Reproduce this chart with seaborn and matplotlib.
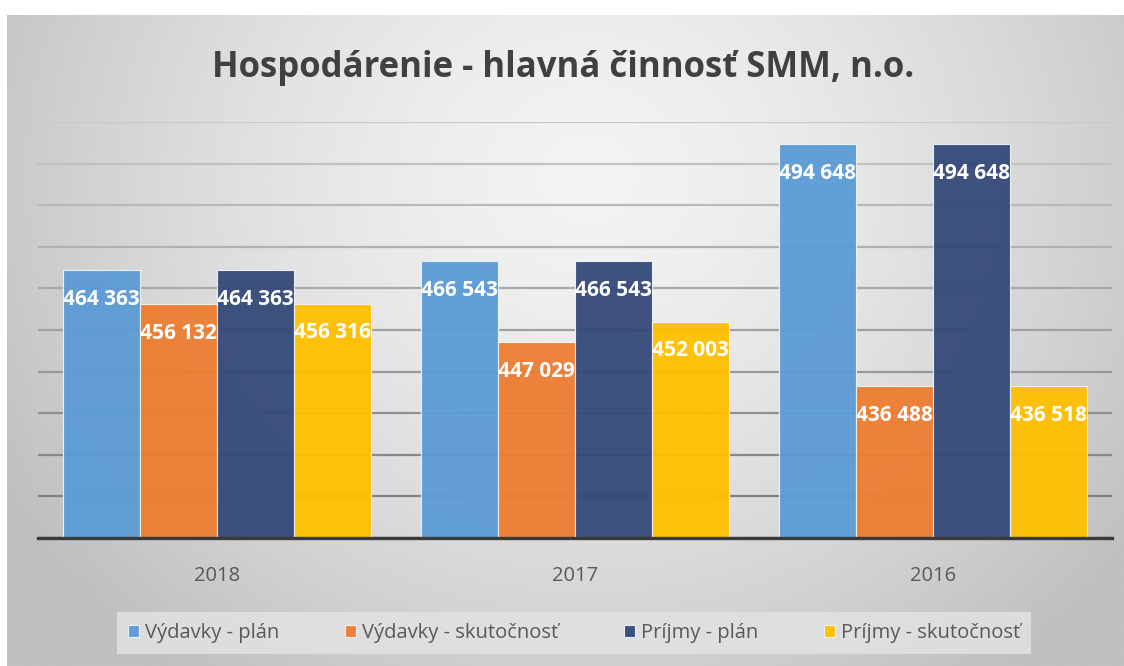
import numpy as np
import pandas as pd
import seaborn as sns
import matplotlib.pyplot as plt
from matplotlib.colors import to_rgb

# Data
years = ['2018', '2017', '2016']
series = ['Výdavky - plán', 'Výdavky - skutočnosť', 'Príjmy - plán', 'Príjmy - skutočnosť']
vydavky_plan = [464363, 466543, 494648]
vydavky_skut = [456132, 447029, 436488]
prijmy_plan = [464363, 466543, 494648]
prijmy_skut = [456316, 452003, 436518]

colors = ['#5B9BD5', '#ED7D31', '#34497A', '#FFC000']

rows = []
for name, vals in zip(series, [vydavky_plan, vydavky_skut, prijmy_plan, prijmy_skut]):
    for y, v in zip(years, vals):
        rows.append({'Rok': y, 'Séria': name, 'Hodnota': v})
df = pd.DataFrame(rows)

sns.set_theme(style='white')
plt.rcParams['font.family'] = ['Open Sans', 'DejaVu Sans']

W, H = 1124, 666
fig = plt.figure(figsize=(W / 100, H / 100), dpi=100, facecolor='white')

# gray radial gradient behind the chart
bg = fig.add_axes([7 / W, 0, 1 - 7 / W, (H - 15) / H], zorder=-10)
gx, gy = np.meshgrid(np.linspace(0, 1, 400), np.linspace(0, 1, 240))
r = np.sqrt(((gx - 0.52) / 0.60) ** 2 + ((gy - 0.25) / 0.95) ** 2)
t = np.clip(r, 0, 1) ** 1.5
c0, c1 = np.array(to_rgb('#f3f3f3')), np.array(to_rgb('#c0c0c0'))
img = c0[None, None, :] * (1 - t[..., None]) + c1[None, None, :] * t[..., None]
bg.imshow(img, aspect='auto', extent=[0, 1, 0, 1], origin='upper')
bg.axis('off')

ax = fig.add_axes([38 / W, (H - 538) / H, (1112 - 38) / W, (538 - 122) / H])
ax.set_facecolor('none')

sns.barplot(data=df, x='Rok', y='Hodnota', hue='Séria', order=years, hue_order=series,
            palette=colors, saturation=1, width=0.86, dodge=True, ax=ax, alpha=0.95,
            edgecolor='#eef4fb', linewidth=0.8, zorder=3)

ax.set_ylim(400000, 500000)
ax.set_yticks(np.arange(400000, 500001, 10000))
ax.yaxis.grid(True, linewidth=1.6)
ax.set_axisbelow(True)
gl = ax.yaxis.get_gridlines()
for i, line in enumerate(gl):
    f = i / (len(gl) - 1)
    g = 0.47 + 0.32 * f
    line.set_color((g, g, g))
ax.tick_params(axis='y', left=False, labelleft=False)
ax.tick_params(axis='x', length=0, pad=20, labelsize=14.5, labelcolor='#595959')
ax.set_xlabel('')
ax.set_ylabel('')
for s in ['top', 'left', 'right']:
    ax.spines[s].set_visible(False)
ax.spines['bottom'].set_color('#3a3a3a')
ax.spines['bottom'].set_linewidth(2.4)
ax.spines['bottom'].set_zorder(5)

# value labels inside bar tops
for cont, vals in zip(ax.containers, [vydavky_plan, vydavky_skut, prijmy_plan, prijmy_skut]):
    for bar, v in zip(cont, vals):
        ax.annotate(f'{v:,}'.replace(',', ' '),
                    (bar.get_x() + bar.get_width() / 2, v),
                    xytext=(0, -21), textcoords='offset points',
                    ha='center', va='center', color='white',
                    fontsize=15, fontweight='bold', zorder=6)

handles, labels = ax.get_legend_handles_labels()
leg = ax.legend(handles, labels, loc='center', bbox_to_anchor=(574 / W, 1 - 633 / H),
                bbox_transform=fig.transFigure, ncol=4, frameon=True, fancybox=False,
                facecolor='#e2e2e2', edgecolor='none', framealpha=0.85,
                handlelength=0.55, handleheight=0.55, handletextpad=0.3,
                columnspacing=3.25, borderpad=0.55, borderaxespad=0, fontsize=14.5)
for txt in leg.get_texts():
    txt.set_color('#595959')

fig.text(563 / W, 1 - 68 / H, 'Hospodárenie - hlavná činnosť SMM, n.o.',
         ha='center', va='center', fontsize=25, fontweight='bold', color='#404040')

fig.savefig('out.png', dpi=100)
